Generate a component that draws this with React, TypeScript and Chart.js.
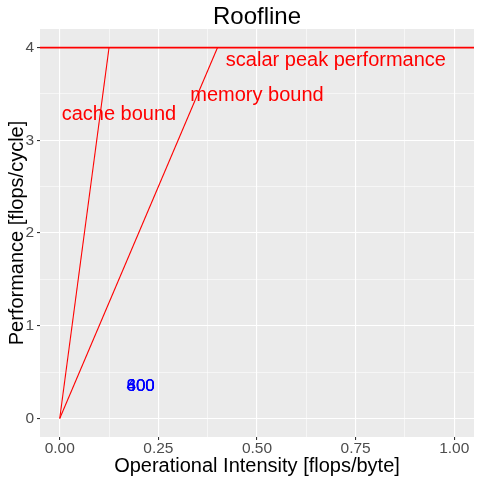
import React, { useEffect, useRef } from "react";
import { Chart, registerables } from "chart.js";
Chart.register(...registerables);

const FONT = "'Liberation Sans', Arial, sans-serif";

const xTicks = [0, 0.25, 0.5, 0.75, 1.0];
const xTickLabels = ["0.00", "0.25", "0.50", "0.75", "1.00"];
const xMinorTicks = [0.125, 0.375, 0.625, 0.875];
const yTicks = [0, 1, 2, 3, 4];
const yTickLabels = ["0", "1", "2", "3", "4"];
const yMinorTicks = [0.5, 1.5, 2.5, 3.5];
const xRange = [-0.05, 1.05];
const yRange = [-0.2, 4.2];

const peakPerformance = 4;
const cacheBandwidth = 32;
const memoryBandwidth = 10;

const boundLabels = ["cache bound", "memory bound", "scalar peak performance"];
const boundLabelX = [0.15, 0.5, 0.7];
const boundLabelY = [3.28, 3.48, 3.86];

const pointLabels = ["400", "600", "800"];
const pointX = [0.205, 0.205, 0.205];
const pointY = [0.35, 0.35, 0.35];

const bgPlugin = {
  id: "panelBg",
  beforeDraw(chart: any) {
    const { ctx, chartArea } = chart;
    ctx.save();
    ctx.fillStyle = "#EBEBEB";
    ctx.fillRect(chartArea.left, chartArea.top, chartArea.right - chartArea.left, chartArea.bottom - chartArea.top);
    ctx.restore();
  },
};

const textPlugin = {
  id: "textLabels",
  afterDatasetsDraw(chart: any) {
    const { ctx } = chart;
    const xs = chart.scales.x;
    const ys = chart.scales.y;
    ctx.save();
    ctx.textAlign = "center";
    ctx.textBaseline = "middle";
    ctx.fillStyle = "#FF0000";
    ctx.font = `20px ${FONT}`;
    boundLabels.forEach((t, i) => {
      ctx.fillText(t, xs.getPixelForValue(boundLabelX[i]), ys.getPixelForValue(boundLabelY[i]));
    });
    ctx.fillStyle = "#0000FF";
    ctx.font = `17px ${FONT}`;
    pointLabels.forEach((t, i) => {
      ctx.fillText(t, xs.getPixelForValue(pointX[i]), ys.getPixelForValue(pointY[i]));
    });
    ctx.restore();
  },
};

export default function App() {
  const ref = useRef<HTMLCanvasElement>(null);
  useEffect(() => {
    if (!ref.current) return;
    const isMajor = (arr: number[], v: number) => arr.indexOf(v) >= 0;
    const chart = new Chart(ref.current, {
      type: "scatter",
      data: {
        datasets: [
          {
            borderColor: "#FF0000",
            backgroundColor: "#FF0000",
            borderWidth: 1.1,
            pointRadius: 0,
            showLine: true,
            data: [
              { x: 0, y: 0 },
              { x: peakPerformance / cacheBandwidth, y: peakPerformance },
            ],
          },
          {
            borderColor: "#FF0000",
            backgroundColor: "#FF0000",
            borderWidth: 1.1,
            pointRadius: 0,
            showLine: true,
            data: [
              { x: 0, y: 0 },
              { x: peakPerformance / memoryBandwidth, y: peakPerformance },
            ],
          },
          {
            borderColor: "#FF0000",
            backgroundColor: "#FF0000",
            borderWidth: 1.7,
            pointRadius: 0,
            showLine: true,
            data: [
              { x: xRange[0], y: peakPerformance },
              { x: xRange[1], y: peakPerformance },
            ],
          },
        ],
      },
      options: {
        animation: false,
        responsive: false,
        devicePixelRatio: 1,
        layout: { padding: { left: 0, right: 6, top: 0, bottom: 0 } },
        plugins: {
          legend: { display: false },
          tooltip: { enabled: false },
          title: {
            display: true,
            text: "Roofline",
            fullSize: false,
            color: "#000000",
            font: { family: FONT, size: 24, lineHeight: 1, weight: "normal" },
            padding: { top: 5, bottom: 0 },
          },
        },
        scales: {
          x: {
            type: "linear",
            min: xRange[0],
            max: xRange[1],
            afterBuildTicks: (s: any) => {
              s.ticks = [...xTicks, ...xMinorTicks].map((v) => ({ value: v }));
            },
            afterFit: (s: any) => {
              s.height = 43;
            },
            border: { display: false },
            grid: {
              color: "#FFFFFF",
              lineWidth: (c: any) => (isMajor(xTicks, c.tick?.value) ? 1.1 : 0.55),
              drawTicks: true,
              tickLength: 3,
              tickColor: (c: any) => (isMajor(xTicks, c.tick?.value) ? "#333333" : "rgba(0,0,0,0)"),
              tickWidth: 1.1,
            },
            ticks: {
              autoSkip: false,
              maxRotation: 0,
              padding: 1,
              color: "#4D4D4D",
              font: { family: FONT, size: 15.5, lineHeight: 1 },
              callback: (v: any) => {
                const i = xTicks.indexOf(v);
                return i >= 0 ? xTickLabels[i] : "";
              },
            },
            title: {
              display: true,
              text: "Operational Intensity [flops/byte]",
              color: "#000000",
              font: { family: FONT, size: 20, lineHeight: 1.2 },
              padding: { top: 0, bottom: 2 },
            },
          },
          y: {
            type: "linear",
            min: yRange[0],
            max: yRange[1],
            afterBuildTicks: (s: any) => {
              s.ticks = [...yTicks, ...yMinorTicks].map((v) => ({ value: v }));
            },
            afterFit: (s: any) => {
              s.width = 40;
            },
            border: { display: false },
            grid: {
              color: "#FFFFFF",
              lineWidth: (c: any) => (isMajor(yTicks, c.tick?.value) ? 1.1 : 0.55),
              drawTicks: true,
              tickLength: 3,
              tickColor: (c: any) => (isMajor(yTicks, c.tick?.value) ? "#333333" : "rgba(0,0,0,0)"),
              tickWidth: 1.1,
            },
            ticks: {
              autoSkip: false,
              padding: 3,
              color: "#4D4D4D",
              font: { family: FONT, size: 15.5, lineHeight: 1 },
              callback: (v: any) => {
                const i = yTicks.indexOf(v);
                return i >= 0 ? yTickLabels[i] : "";
              },
            },
            title: {
              display: true,
              text: "Performance [flops/cycle]",
              color: "#000000",
              font: { family: FONT, size: 20, lineHeight: 1.2 },
              padding: { top: 5, bottom: 0 },
            },
          },
        },
      } as any,
      plugins: [bgPlugin, textPlugin],
    });
    return () => chart.destroy();
  }, []);
  return (
    <div style={{ position: "fixed", left: 0, top: 0, width: 480, height: 480, background: "#FFFFFF" }}>
      <canvas ref={ref} width={480} height={480} style={{ width: 480, height: 480, display: "block" }} />
    </div>
  );
}
